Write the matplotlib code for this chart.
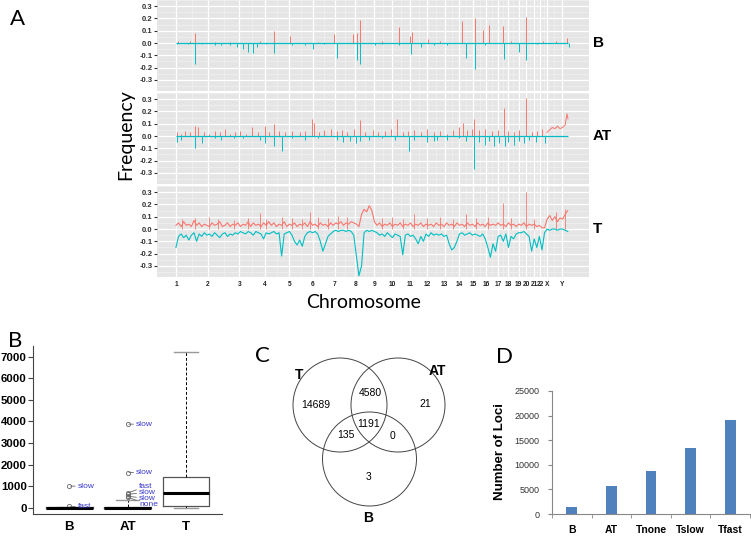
import numpy as np
import matplotlib
matplotlib.use('Agg')
import matplotlib.pyplot as plt
from matplotlib.patches import Circle

plt.rcParams['axes.unicode_minus'] = False

# ---------------- panel A data (genome position in Mb) ----------------
chrom_names = [str(i) for i in range(1, 23)] + ['X', 'Y']
chrom_starts = [0, 249, 492, 690, 881, 1062, 1233, 1392, 1538, 1679, 1815, 1950,
                2084, 2199, 2306, 2409, 2499, 2580, 2658, 2717, 2780, 2828, 2879, 2995]
genome_end = 3042

# B track: spikes (position, frequency)
b_red_pos = [16, 109, 147, 300, 419, 650, 760, 885, 1100, 1226, 1374, 1405, 1428, 1600,
             1730, 1816, 1831, 1956, 2050, 2219, 2320, 2382, 2429, 2538, 2600, 2716, 2848, 2950, 3034]
b_red_val = [0.02, 0.02, 0.085, 0.01, 0.01, 0.015, 0.10, 0.06, 0.01, 0.07, 0.07, 0.08, 0.19, 0.02,
             0.13, 0.06, 0.09, 0.03, 0.02, 0.18, 0.20, 0.11, 0.15, 0.14, 0.015, 0.21, 0.02, 0.02, 0.04]
b_cyan_pos = [8, 90, 147, 200, 300, 350, 419, 470, 520, 560, 598, 630, 700, 760, 900, 1000,
              1063, 1150, 1249, 1405, 1428, 1544, 1600, 1730, 1824, 1900, 2000, 2100, 2250,
              2320, 2400, 2545, 2662, 2716, 2800, 3050]
b_cyan_val = [-0.01, -0.01, -0.17, -0.01, -0.02, -0.015, -0.02, -0.03, -0.05, -0.07, -0.08, -0.03,
              -0.01, -0.08, -0.015, -0.02, -0.05, -0.01, -0.12, -0.14, -0.17, -0.02, -0.01, -0.02,
              -0.09, -0.03, -0.015, -0.02, -0.12, -0.21, -0.02, -0.13, -0.07, -0.14, -0.01, -0.03]

# AT track
at_red_pos = [8, 40, 70, 109, 147, 170, 220, 260, 300, 340, 380, 420, 460, 500, 540, 590, 640,
              691, 720, 760, 800, 850, 900, 960, 1000, 1055, 1075, 1110, 1150, 1200, 1250, 1290,
              1330, 1380, 1428, 1470, 1529, 1570, 1620, 1670, 1715, 1760, 1800, 1850, 1900, 1948,
              2000, 2050, 2100, 2150, 2200, 2227, 2260, 2300, 2313, 2350, 2400, 2450, 2500, 2545,
              2580, 2620, 2660, 2716, 2760, 2801, 2840]
at_red_val = [0.03, 0.02, 0.04, 0.03, 0.085, 0.07, 0.03, 0.02, 0.04, 0.03, 0.06, 0.02, 0.03, 0.04,
              0.02, 0.07, 0.03, 0.08, 0.03, 0.10, 0.04, 0.03, 0.04, 0.03, 0.04, 0.14, 0.11, 0.03,
              0.05, 0.06, 0.04, 0.05, 0.03, 0.06, 0.13, 0.03, 0.05, 0.03, 0.04, 0.06, 0.14, 0.03,
              0.04, 0.05, 0.03, 0.06, 0.03, 0.04, 0.02, 0.05, 0.07, 0.11, 0.05, 0.06, 0.14, 0.05,
              0.06, 0.04, 0.05, 0.23, 0.04, 0.03, 0.05, 0.31, 0.03, 0.04, 0.06]
at_x_pos = [2879, 2900, 2920, 2940, 2960, 2980, 3000, 3020, 3034, 3042]
at_x_red = [0.03, 0.05, 0.07, 0.06, 0.08, 0.06, 0.07, 0.09, 0.18, 0.14]
at_cyan_pos = [8, 40, 147, 200, 300, 350, 450, 520, 650, 691, 760, 823, 900, 1000, 1100, 1249,
               1300, 1350, 1400, 1428, 1500, 1600, 1700, 1808, 1850, 1948, 2000, 2025, 2100, 2200,
               2250, 2313, 2350, 2400, 2430, 2470, 2510, 2550, 2580, 2620, 2660, 2700, 2740, 2790, 2863]
at_cyan_val = [-0.05, -0.03, -0.10, -0.06, -0.02, -0.03, -0.02, -0.02, -0.03, -0.06, -0.08, -0.12,
               -0.02, -0.03, -0.02, -0.03, -0.05, -0.04, -0.06, -0.04, -0.03, -0.02, -0.03, -0.12,
               -0.03, -0.05, -0.04, -0.03, -0.03, -0.02, -0.04, -0.27, -0.05, -0.07, -0.04, -0.08,
               -0.06, -0.08, -0.05, -0.07, -0.04, -0.06, -0.03, -0.05, -0.06]

# T track: values in 20 Mb bins from 0 to 3040
t_pos = np.arange(0, 3041, 20)
t_red = [0.03, 0.05, 0.02, 0.06, 0.03, 0.04, 0.02, 0.07, 0.03, 0.05, 0.02, 0.04, 0.03,
         0.02, 0.05, 0.03, 0.04, 0.06, 0.02, 0.03, 0.05, 0.02, 0.04, 0.03, 0.05,
         0.02, 0.04, 0.03, 0.06, 0.02, 0.05, 0.03, 0.04, 0.02, 0.05, 0.03, 0.06,
         0.03, 0.05, 0.02, 0.04, 0.03, 0.06, 0.02, 0.04, 0.03, 0.05, 0.02, 0.04,
         0.03, 0.05, 0.02, 0.06, 0.03, 0.04, 0.02, 0.05, 0.03, 0.04, 0.02, 0.05,
         0.03, 0.05, 0.04, 0.06, 0.03, 0.05, 0.04, 0.06, 0.05, 0.04, 0.02,
         0.12, 0.16, 0.14, 0.19, 0.15, 0.06,
         0.03, 0.05, 0.02, 0.04, 0.03, 0.05, 0.02, 0.04, 0.03, 0.05, 0.02, 0.04,
         0.03, 0.05, 0.02, 0.04, 0.03, 0.05, 0.02, 0.04, 0.03, 0.04, 0.02, 0.05,
         0.03, 0.04, 0.02, 0.05, 0.03, 0.04, 0.02, 0.05, 0.03, 0.04, 0.02, 0.05,
         0.03, 0.04, 0.02, 0.05, 0.03, 0.04, 0.02, 0.05, 0.03, 0.04, 0.03, 0.05,
         0.03, 0.04, 0.02, 0.05, 0.03, 0.04, 0.02, 0.04, 0.03, 0.05, 0.02, 0.04,
         0.03, 0.04, 0.02, 0.03, 0.01, 0.01,
         0.08, 0.11, 0.07, 0.10, 0.06, 0.09, 0.08, 0.12, 0.15]
t_cyan = [-0.15, -0.06, -0.04, -0.07, -0.05, -0.09, -0.05, -0.03, -0.10, -0.04, -0.06, -0.03, -0.05,
          -0.04, -0.06, -0.03, -0.05, -0.07, -0.04, -0.03, -0.06, -0.04, -0.05, -0.03, -0.04,
          -0.02, -0.03, -0.04, -0.02, -0.03, -0.05, -0.02, -0.03, -0.04, -0.08, -0.03, -0.04,
          -0.03, -0.02, -0.04, -0.03, -0.22, -0.04, -0.03, -0.02, -0.05, -0.10, -0.13, -0.09,
          -0.14, -0.06, -0.03, -0.02, -0.03, -0.02, -0.04, -0.10, -0.18, -0.12, -0.06, -0.04,
          -0.02, -0.01, -0.02, -0.01, -0.01, -0.02, -0.01, -0.02, -0.05, -0.22, -0.38,
          -0.30, -0.03, -0.01, -0.02, -0.01, -0.02,
          -0.03, -0.05, -0.04, -0.06, -0.03, -0.05, -0.07, -0.04, -0.05, -0.06, -0.21, -0.05,
          -0.04, -0.06, -0.05, -0.08, -0.12, -0.06, -0.10, -0.04, -0.06, -0.03, -0.05, -0.04,
          -0.05, -0.04, -0.06, -0.05, -0.12, -0.17, -0.15, -0.10, -0.04, -0.03, -0.05, -0.04,
          -0.03, -0.05, -0.04, -0.05, -0.06, -0.04, -0.08, -0.15, -0.23, -0.12, -0.18, -0.06,
          -0.05, -0.10, -0.04, -0.15, -0.06, -0.08, -0.04, -0.03, -0.03, -0.02, -0.04, -0.06,
          -0.18, -0.08, -0.15, -0.06, -0.17, -0.03,
          0.0, -0.01, 0.0, 0.0, -0.01, 0.0, 0.0, -0.01, -0.02]
t_red_spike_pos = [50, 150, 260, 330, 450, 560, 652, 700, 820, 900, 980, 1040, 1100, 1180, 1260,
                   1330, 1600, 1680, 1760, 1850, 1950, 2050, 2150, 2250, 2330, 2420, 2538, 2600,
                   2716, 2780, 2950, 3020]
t_red_spike_val = [0.08, 0.09, 0.10, 0.08, 0.07, 0.09, 0.13, 0.08, 0.10, 0.09, 0.08, 0.14, 0.10,
                   0.09, 0.11, 0.10, 0.09, 0.10, 0.08, 0.12, 0.09, 0.10, 0.08, 0.12, 0.09, 0.10,
                   0.21, 0.09, 0.30, 0.08, 0.14, 0.16]

# ---------------- panel B data ----------------
box_groups = ['B', 'AT', 'T']
box_med = [0, 0, 680]
box_q1 = [0, 0, 90]
box_q3 = [30, 50, 1430]
box_lo = [0, 0, 0]
box_hi = [20, 340, 7200]
outlier_group = [1, 1, 2, 2, 2, 2, 2, 2]
outlier_val = [1000, 60, 3870, 1630, 680, 620, 540, 490]
outlier_lab = ['slow', 'fast', 'slow', 'slow', 'fast', 'slow', 'slow', 'none']

# ---------------- panel C data ----------------
venn_sets = ['T', 'AT', 'B']
venn_counts = ['14689', '4580', '21', '135', '1191', '0', '3']

# ---------------- panel D data ----------------
loci_groups = ['B', 'AT', 'Tnone', 'Tslow', 'Tfast']
loci_counts = [1350, 5750, 8750, 13500, 19200]

RED = '#F8766D'
CYAN = '#00BFC4'
W, H = 751, 539
fig = plt.figure(figsize=(W / 100, H / 100), dpi=100)


def px_axes(x0, y0, x1, y1):
    return fig.add_axes([x0 / W, 1 - y1 / H, (x1 - x0) / W, (y1 - y0) / H])


# ---------------- panel A ----------------
yt = [-0.3, -0.2, -0.1, 0.0, 0.1, 0.2, 0.3]
minor_x = (np.array(chrom_starts[:-1]) + np.array(chrom_starts[1:])) / 2
boxes_a = [(157, 0, 589, 91), (157, 93, 589, 184), (157, 186, 589, 277)]
axes_a = []
for (x0, y0, x1, y1), name in zip(boxes_a, box_groups):
    ax = px_axes(x0, y0, x1, y1)
    ax.set_facecolor('#E5E5E5')
    ax.set_xlim(-147, 3205)
    ax.set_ylim(-0.39, 0.345)
    ax.set_xticks(chrom_starts)
    ax.set_xticks(minor_x, minor=True)
    ax.set_yticks(yt)
    ax.set_yticks(np.arange(-0.35, 0.36, 0.1), minor=True)
    ax.grid(which='major', color='white', lw=0.9)
    ax.grid(which='minor', color='#F3F3F3', lw=0.45)
    ax.set_axisbelow(True)
    for s in ax.spines.values():
        s.set_visible(False)
    ax.tick_params(axis='y', which='major', length=2, color='#333333', pad=1)
    ax.tick_params(which='minor', length=0)
    ax.tick_params(axis='x', length=0, labelbottom=False)
    ax.set_yticklabels([f'{v:.1f}' for v in yt], fontsize=5.5, fontweight='bold',
                       color='#333333', family='Liberation Sans')
    ax.text(1.009, 0, name, transform=ax.get_yaxis_transform(), fontsize=11,
            fontweight='bold', ha='left', va='center', family='Liberation Sans')
    axes_a.append(ax)

ax = axes_a[0]
ax.vlines(b_red_pos, 0, b_red_val, color=RED, lw=0.7)
ax.hlines(0, 0, genome_end, color=CYAN, lw=0.9)
ax.vlines(b_cyan_pos, b_cyan_val, 0, color=CYAN, lw=0.7)

ax = axes_a[1]
ax.vlines(at_red_pos, 0, at_red_val, color=RED, lw=0.7)
ax.plot(at_x_pos, at_x_red, color=RED, lw=0.7)
ax.hlines(0, 0, genome_end, color=CYAN, lw=0.9)
ax.vlines(at_cyan_pos, at_cyan_val, 0, color=CYAN, lw=0.7)

ax = axes_a[2]
ax.plot(t_pos, t_red, color=RED, lw=0.8)
ax.vlines(t_red_spike_pos, 0, t_red_spike_val, color=RED, lw=0.6)
ax.plot(t_pos, t_cyan, color=CYAN, lw=0.8)
ax.tick_params(axis='x', labelbottom=True, pad=3)
ax.set_xticklabels(chrom_names, fontsize=4.8, fontweight='bold', color='#222222',
                   family='Liberation Sans')

fig.text(126 / W, 1 - 135 / H, 'Frequency', rotation=90, fontsize=14, family='Lato',
         ha='center', va='center')
fig.text(364 / W, 1 - 303 / H, 'Chromosome', fontsize=14, family='Lato',
         ha='center', va='center')

# ---------------- panel B ----------------
axb = px_axes(33, 346, 222, 514)
stats = [dict(med=m, q1=a, q3=b, whislo=lo, whishi=hi, fliers=[])
         for m, a, b, lo, hi in zip(box_med, box_q1, box_q3, box_lo, box_hi)]
axb.bxp(stats, positions=[1, 2, 3], widths=0.8, showfliers=False, capwidths=0.4,
        boxprops=dict(color='#555555', lw=0.9),
        medianprops=dict(color='black', lw=2.2),
        whiskerprops=dict(color='black', lw=0.7, ls=(0, (3, 2))),
        capprops=dict(color='#999999', lw=1.0))
axb.plot(outlier_group, outlier_val, 'o', mfc='none', mec='#666666', ms=3, mew=0.6)
lab_y = [1000, 60, 3870, 1630, 995, 720, 413, 138]
lab_x = [1.15, 1.15, 2.15, 2.15, 2.2, 2.2, 2.2, 2.2]
for gx, v, lab, tx, ty in zip(outlier_group, outlier_val, outlier_lab, lab_x, lab_y):
    axb.annotate(lab, xy=(gx, v), xytext=(tx, ty), color='#3A3AC8', fontsize=6,
                 va='center', ha='left', family='Liberation Sans',
                 arrowprops=dict(arrowstyle='-', color='#666666', lw=0.6,
                                 shrinkA=0, shrinkB=1))
axb.set_xlim(0.38, 3.62)
axb.set_ylim(-288, 7488)
axb.set_yticks(range(0, 7001, 1000))
axb.set_yticklabels([str(v) for v in range(0, 7001, 1000)], fontsize=8.2,
                    fontweight='bold', family='Liberation Sans')
axb.set_xticks([1, 2, 3])
axb.set_xticklabels(box_groups, fontsize=9.5, fontweight='bold', family='Liberation Sans')
axb.tick_params(axis='x', length=0, pad=5)
axb.tick_params(axis='y', length=3.5, width=0.8, color='#444444', pad=1)
for s in ['top', 'right']:
    axb.spines[s].set_visible(False)
for s in ['left', 'bottom']:
    axb.spines[s].set_color('#444444')
    axb.spines[s].set_linewidth(0.8)

# ---------------- panel C ----------------
axc = px_axes(240, 340, 490, 539)
axc.set_xlim(240, 490)
axc.set_ylim(539, 340)
axc.axis('off')
circle_xy = [(340, 405), (398, 405), (369.5, 459)]
for (cx, cy) in circle_xy:
    axc.add_patch(Circle((cx, cy), 47, fill=False, ec='#444444', lw=0.7))
set_label_xy = [(299, 375), (437, 371), (368, 518)]
for name, (lx, ly) in zip(venn_sets, set_label_xy):
    axc.text(lx, ly, name, fontsize=10, fontweight='bold', ha='center', va='center',
             family='Liberation Sans')
count_xy = [(316, 405), (370, 393), (425, 404), (346, 435), (369, 424), (393, 436), (369, 477)]
for txt, (tx, ty) in zip(venn_counts, count_xy):
    axc.text(tx, ty, txt, fontsize=7.5, ha='center', va='center', family='Liberation Sans')

# ---------------- panel D ----------------
axd = px_axes(552, 391, 750, 514)
axd.bar(range(len(loci_groups)), loci_counts, width=0.27, color='#4F81BD')
axd.set_xlim(-0.5, 4.5)
axd.set_ylim(0, 25000)
axd.set_yticks(range(0, 25001, 5000))
axd.set_yticklabels([str(v) for v in range(0, 25001, 5000)], fontsize=6.5, color='#333333',
                    family='Liberation Sans')
axd.set_xticks(range(len(loci_groups)))
axd.set_xticklabels(loci_groups, fontsize=7.5, fontweight='bold', family='Liberation Sans')
axd.set_xticks(np.arange(-0.5, 4.6, 1), minor=True)
axd.tick_params(axis='x', which='major', length=0, pad=8)
axd.tick_params(axis='x', which='minor', length=3, color='#888888')
axd.tick_params(axis='y', length=3, color='#888888', pad=6)
for s in ['top', 'right']:
    axd.spines[s].set_visible(False)
for s in ['left', 'bottom']:
    axd.spines[s].set_color('#888888')
    axd.spines[s].set_linewidth(0.8)
fig.text(500 / W, 1 - 452 / H, 'Number of Loci', rotation=90, fontsize=9.5,
         fontweight='bold', family='Liberation Sans', ha='center', va='center')

# panel letters
for letter, (lx, ly) in zip(['A', 'B', 'C', 'D'], [(17, 19), (15, 341), (262, 356), (505, 357)]):
    fig.text(lx / W, 1 - ly / H, letter, fontsize=16, family='Lato', ha='center', va='center')

fig.savefig('out.png', dpi=100)
